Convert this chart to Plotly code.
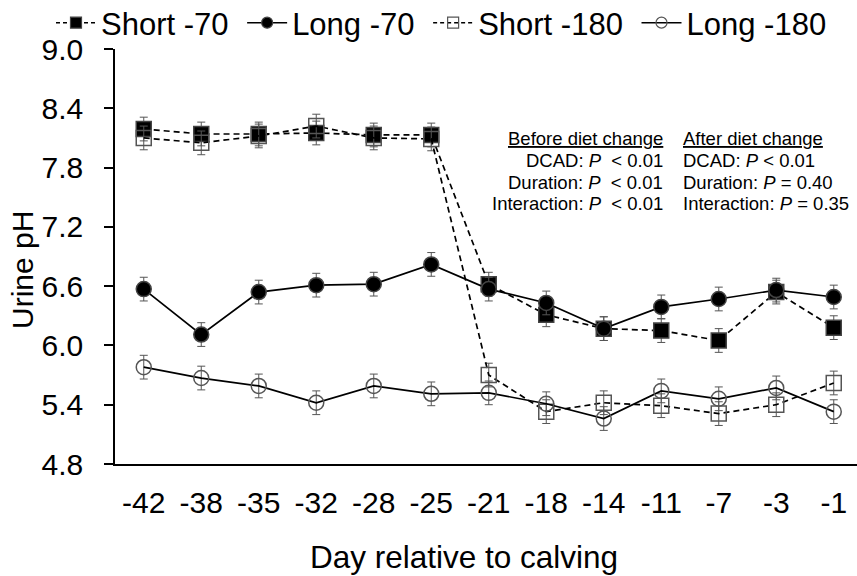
import plotly.graph_objects as go

days = ["-42", "-38", "-35", "-32", "-28", "-25", "-21", "-18", "-14", "-11", "-7", "-3", "-1"]

short_70 = [8.19, 8.14, 8.14, 8.15, 8.13, 8.13, 6.62, 6.31, 6.17, 6.15, 6.05, 6.54, 6.18]
long_70 = [6.57, 6.11, 6.54, 6.61, 6.62, 6.82, 6.57, 6.43, 6.17, 6.39, 6.47, 6.56, 6.49]
short_180 = [8.10, 8.05, 8.12, 8.22, 8.10, 8.09, 5.70, 5.33, 5.42, 5.39, 5.31, 5.40, 5.62]
long_180 = [5.78, 5.67, 5.59, 5.42, 5.59, 5.51, 5.52, 5.41, 5.26, 5.54, 5.46, 5.57, 5.33]
sem = [0.12] * 13

y_ticks = [4.8, 5.4, 6.0, 6.6, 7.2, 7.8, 8.4, 9.0]

FONT = "Arial, Liberation Sans, sans-serif"

series = [
    ("Short -70", short_70, "square", "black", "6px,4px", "#444"),
    ("Long -70", long_70, "circle", "black", "solid", "#444"),
    ("Short -180", short_180, "square-open", "#555", "6px,4px", "#555"),
    ("Long -180", long_180, "circle-open", "#555", "solid", "#555"),
]

fig = go.Figure()
for name, vals, sym, mcol, dash, lcol in series:
    fig.add_trace(go.Scatter(
        x=days, y=vals, name=name, mode="lines+markers", showlegend=False,
        line=dict(color="black", width=1.7, dash=dash),
        marker=dict(symbol=sym, size=15, color=mcol,
                    line=dict(color=lcol, width=1.5)),
        error_y=dict(type="data", array=sem, visible=True,
                     color="#555", thickness=1, width=4),
    ))
# legend-only entries with smaller symbols
for i, (name, vals, sym, mcol, dash, lcol) in enumerate(series):
    pad = "\u00a0" if i < len(series) - 1 else ""
    fig.add_trace(go.Scatter(
        x=[None], y=[None], name=name + pad, mode="lines+markers", showlegend=True,
        line=dict(color="black", width=1.5, dash="4px,3px" if dash != "solid" else "solid"),
        marker=dict(symbol=sym, size=11, color=mcol,
                    line=dict(color=lcol, width=1.2)),
    ))

L, R, T, B = 115, 0, 49, 112
W, H = 857, 576
pw, ph = W - L - R, H - T - B


def px_x(x):
    return (x - L) / pw


def px_y(y):
    return (H - B - y) / ph


left_lines = ["<u>Before diet change</u>",
              "DCAD: <i>P</i>\u00a0 < 0.01",
              "Duration: <i>P</i>\u00a0 < 0.01",
              "Interaction: <i>P</i>\u00a0 < 0.01"]
right_lines = ["<u>After diet change</u>",
               "DCAD: <i>P</i> < 0.01",
               "Duration: <i>P</i> = 0.40",
               "Interaction: <i>P</i> = 0.35"]
line_y = [138, 160, 182, 203]

for txt, yy in zip(left_lines, line_y):
    fig.add_annotation(text=txt, xref="paper", yref="paper", x=px_x(665), y=px_y(yy),
                       xanchor="right", yanchor="middle", showarrow=False,
                       font=dict(family=FONT, size=18.5, color="black"))
for txt, yy in zip(right_lines, line_y):
    fig.add_annotation(text=txt, xref="paper", yref="paper", x=px_x(681), y=px_y(yy),
                       xanchor="left", yanchor="middle", showarrow=False,
                       font=dict(family=FONT, size=18.5, color="black"))

# axis titles
fig.add_annotation(text="Day relative to calving", xref="paper", yref="paper",
                   x=px_x(464), y=px_y(557), xanchor="center", yanchor="middle",
                   showarrow=False, font=dict(family=FONT, size=31.5, color="black"))
fig.add_annotation(text="Urine pH", xref="paper", yref="paper", textangle=-90,
                   x=px_x(22), y=px_y(270), xanchor="center", yanchor="middle",
                   showarrow=False, font=dict(family=FONT, size=30, color="black"))

fig.update_layout(
    width=W, height=H,
    margin=dict(l=L, r=R, t=T, b=B, autoexpand=False),
    paper_bgcolor="white", plot_bgcolor="white",
    font=dict(family=FONT, size=30, color="black"),
    showlegend=True,
    legend=dict(orientation="h", xref="paper", yref="paper",
                x=px_x(51), y=px_y(-4), xanchor="left", yanchor="top",
                itemwidth=40, font=dict(size=31), bgcolor="rgba(0,0,0,0)",
                tracegroupgap=0),
    xaxis=dict(type="category", range=[-0.5, 12.5 - (862.5 - 857) / 57.5],
               showline=True, linecolor="black",
               linewidth=1.5, ticks="", showgrid=False, zeroline=False,
               ticklabelstandoff=11),
    yaxis=dict(range=[4.8, 9.0], tickvals=y_ticks, tickformat=".1f",
               showline=True, linecolor="black", linewidth=1.5,
               ticks="outside", ticklen=9, tickcolor="black", tickwidth=1.5,
               showgrid=False, zeroline=False, ticklabelstandoff=15),
)

fig.write_html("out.html")
